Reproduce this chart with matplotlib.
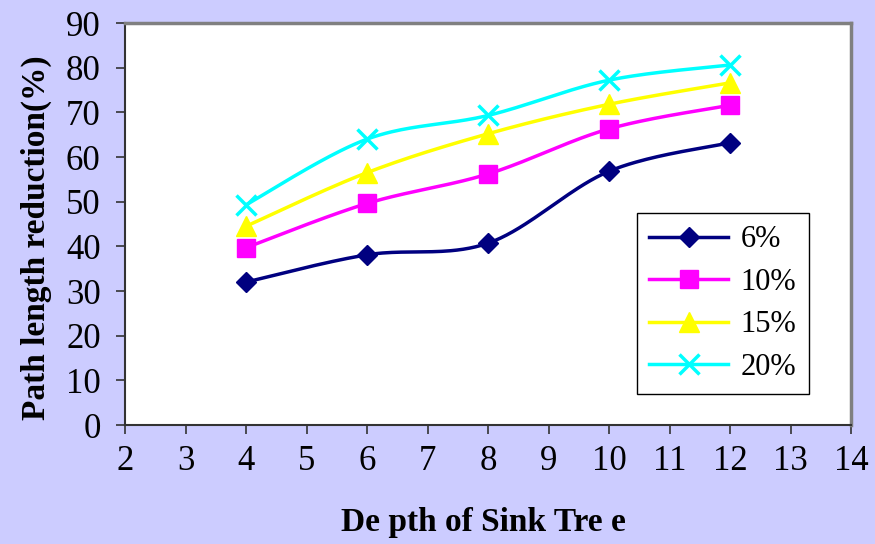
import numpy as np
import matplotlib
matplotlib.use("Agg")
import matplotlib.pyplot as plt
from matplotlib.lines import Line2D

depth = [4, 6, 8, 10, 12]
s6 = [32.0, 38.1, 40.7, 56.8, 63.2]
s10 = [39.7, 49.6, 56.2, 66.3, 71.6]
s15 = [44.5, 56.5, 65.2, 71.8, 76.6]
s20 = [49.3, 64.0, 69.3, 77.2, 80.6]
labels = ["6%", "10%", "15%", "20%"]
xticks = list(range(2, 15))
yticks = list(range(0, 91, 10))

plt.rcParams['font.family'] = ['Liberation Serif', 'DejaVu Serif']

BG = '#CCCCFF'
fig = plt.figure(figsize=(8.75, 5.44), dpi=100, facecolor=BG)
ax = fig.add_axes([125/875, 1-425/544, (851-125)/875, (425-23)/544])
ax.set_facecolor('white')


def smooth(xs, ys, n=40):
    P = np.column_stack([xs, ys]).astype(float)
    out = []
    m = len(P)
    for i in range(m - 1):
        p0 = P[i - 1] if i > 0 else P[i]
        p1 = P[i]
        p2 = P[i + 1]
        p3 = P[i + 2] if i + 2 < m else P[i + 1]
        c1 = p1 + (p2 - p0) / 6.0
        c2 = p2 - (p3 - p1) / 6.0
        t = np.linspace(0, 1, n)[:, None]
        b = ((1 - t) ** 3) * p1 + 3 * ((1 - t) ** 2) * t * c1 + 3 * (1 - t) * t ** 2 * c2 + t ** 3 * p2
        out.append(b if i == 0 else b[1:])
    arr = np.vstack(out)
    return arr[:, 0], arr[:, 1]


styles = [
    dict(color='#000080', marker='D', ms=10.5, mew=1),
    dict(color='#FF00FF', marker='s', ms=12.5, mew=1),
    dict(color='#FFFF00', marker='^', ms=14, mew=1),
    dict(color='#00FFFF', marker='x', ms=14, mew=2.5),
]
series = [s6, s10, s15, s20]
handles = []
for ys, st, lab in zip(series, styles, labels):
    sx, sy = smooth(depth, ys)
    ax.plot(sx, sy, color=st['color'], lw=2.5, zorder=3)
    ax.plot(depth, ys, ls='none', marker=st['marker'], ms=st['ms'],
            mfc=st['color'], mec=st['color'], mew=st['mew'], zorder=4)
    handles.append(Line2D([], [], color=st['color'], lw=2.5, marker=st['marker'],
                          ms=st['ms'], mfc=st['color'], mec=st['color'], mew=st['mew']))

ax.set_xlim(2, 14)
ax.set_ylim(0, 90)
ax.set_xticks(xticks)
ax.set_yticks(yticks)
ax.tick_params(axis='both', direction='out', length=6.5, width=1.2, colors='#333333',
               labelsize=25, labelcolor='black')
ax.tick_params(axis='x', pad=8)
ax.tick_params(axis='y', pad=11)

for side in ['left', 'bottom']:
    ax.spines[side].set_color('#333333')
    ax.spines[side].set_linewidth(1.5)
for side in ['top', 'right']:
    ax.spines[side].set_color('#808080')
    ax.spines[side].set_linewidth(2.5)

leg = ax.legend(handles, labels, loc='upper left', bbox_to_anchor=(0.705, 0.527),
                prop={'size': 22}, frameon=True, fancybox=False, framealpha=1,
                edgecolor='black', handlelength=2.6, labelspacing=0.44,
                handletextpad=0.4, borderpad=0.4, borderaxespad=0)
leg.get_frame().set_linewidth(1.0)

fig.text(483/875, 1-523/544, "De pth of Sink Tre e", ha='center', va='center',
         fontsize=24, fontweight='bold')
fig.text(36/875, 1-238/544, "Path length reduction(%)", ha='center', va='center',
         rotation=90, fontsize=24, fontweight='bold')

fig.savefig('out.png', dpi=100, facecolor=BG)
